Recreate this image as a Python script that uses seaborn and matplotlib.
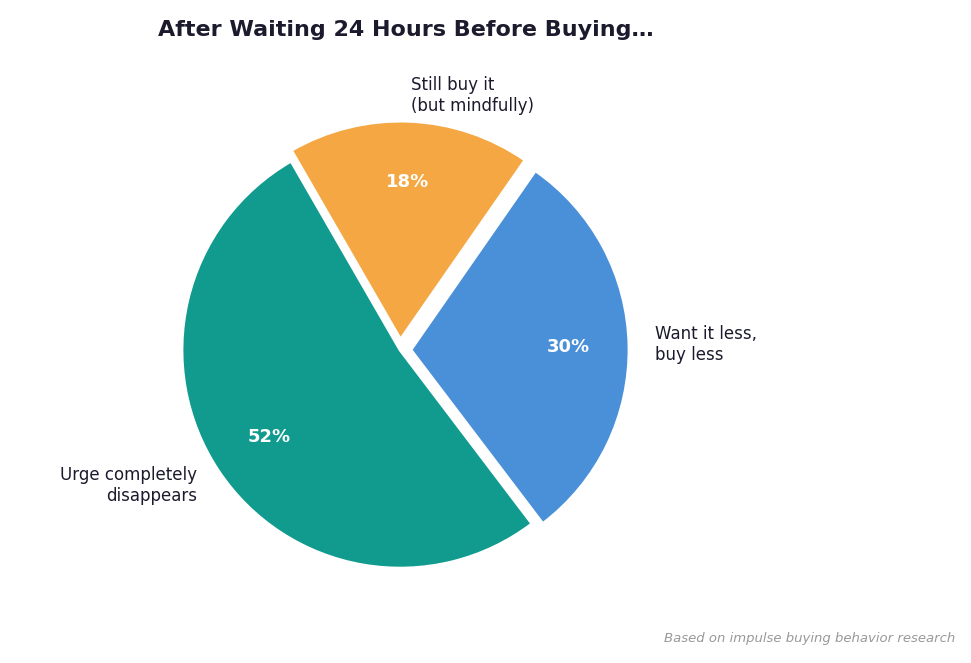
import matplotlib
matplotlib.use("Agg")
import matplotlib.pyplot as plt
import seaborn as sns

sns.set_theme(style="white")
plt.rcParams['font.family'] = ['DejaVu Sans']

labels = ["Urge completely\ndisappears", "Want it less,\nbuy less", "Still buy it\n(but mindfully)"]
values = [52, 30, 18]
colors = ["#109B8E", "#4A90D9", "#F4A742"]
explode = [0.0, 0.05, 0.05]

fig = plt.figure(figsize=(9.71, 6.63), dpi=100)
ax = fig.add_axes([0.165, 0.11, 0.494, 0.724])
wedges, texts, autotexts = ax.pie(values, labels=labels, colors=colors, explode=explode,
    startangle=120, autopct="%d%%", pctdistance=0.72, labeldistance=1.12,
    wedgeprops=dict(edgecolor="white", linewidth=2),
    textprops=dict(fontsize=12, color="#1c1b2e"))
for t in autotexts:
    t.set_color("white"); t.set_fontweight("bold"); t.set_fontsize(13)
ax.set_aspect("equal")
ax.set_xlim(-1.1, 1.1); ax.set_ylim(-1.1, 1.1)
fig.text(0.418, 0.955, "After Waiting 24 Hours Before Buying…", ha="center", va="center",
         fontsize=16, fontweight="bold", color="#1c1b2e")
fig.text(0.984, 0.037, "Based on impulse buying behavior research", ha="right", va="center",
         fontsize=9.5, style="italic", color="#999999")
fig.savefig("out.png", dpi=100)
